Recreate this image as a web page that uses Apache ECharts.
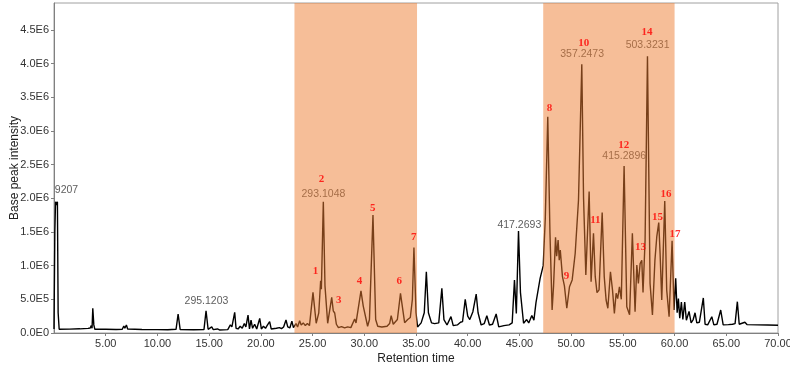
<!DOCTYPE html>
<html>
<head>
<meta charset="utf-8">
<script src="https://cdn.jsdelivr.net/npm/echarts@6/dist/echarts.min.js"></script>
<style>
  html, body { margin: 0; padding: 0; background: #fff; }
  #main { width: 790px; height: 369px; }
</style>
</head>
<body>
<div id="main"></div>
<script>
// chromatogram trace: retention time (min) / base peak intensity
var rtMin = [
  0.00, 0.08, 0.15, 0.25, 0.33, 0.40, 0.50, 1.5, 2.5, 3.3, 3.5, 3.6, 3.68, 3.75, 3.85, 3.95,
  5.0, 6.0, 6.6, 6.75, 6.85, 7.0, 7.12, 8.5, 10.0, 11.0, 11.8, 12.0, 12.2, 13.5, 14.5, 14.7,
  14.9, 15.25, 15.4, 15.8, 16.0, 16.8, 17.05, 17.2, 17.47, 17.6, 17.8, 18.0, 18.2, 18.4, 18.55,
  18.76, 18.9, 19.05, 19.2, 19.4, 19.6, 19.89, 20.05, 20.25, 20.45, 20.6, 20.85, 21.0, 21.5,
  21.8, 22.0, 22.2, 22.43, 22.6, 22.8, 23.0, 23.15, 23.4, 23.55, 23.75, 23.9, 24.1, 24.3, 24.5,
  24.7, 25.04, 25.35, 25.6, 25.78, 25.85, 26.04, 26.2, 26.46, 26.85, 27.0, 27.14, 27.3, 27.5,
  27.8, 28.1, 28.4, 28.7, 29.07, 29.2, 29.68, 29.9, 30.32, 30.5, 30.84, 31.1, 31.3, 31.7, 32.2,
  32.45, 32.6, 32.8, 33.2, 33.5, 33.9, 34.2, 34.45, 34.65, 34.8, 35.0, 35.15, 35.5, 35.8, 36.0,
  36.2, 36.5, 36.8, 37.2, 37.5, 37.7, 38.0, 38.38, 38.6, 39.0, 39.3, 39.5, 39.76, 40.0, 40.2,
  40.5, 40.82, 41.0, 41.3, 41.6, 41.85, 42.1, 42.4, 42.75, 43.0, 43.5, 44.0, 44.3, 44.52, 44.7,
  44.91, 45.1, 45.4, 45.7, 45.9, 46.2, 46.4, 46.6, 47.0, 47.3, 47.5, 47.74, 47.95, 48.16, 48.3,
  48.49, 48.6, 48.74, 48.85, 48.95, 49.16, 49.35, 49.58, 49.84, 50.1, 50.39, 50.71, 51.03, 51.2,
  51.42, 51.74, 51.93, 52.16, 52.33, 52.5, 52.7, 53.0, 53.2, 53.38, 53.55, 53.8, 54.0, 54.18,
  54.35, 54.5, 54.67, 54.85, 55.12, 55.38, 55.65, 55.92, 56.18, 56.35, 56.5, 56.67, 56.83, 56.95,
  57.15, 57.38, 57.63, 57.86, 58.1, 58.28, 58.47, 58.6, 58.76, 59.05, 59.24, 59.47, 59.76, 59.95,
  60.11, 60.25, 60.37, 60.5, 60.66, 60.8, 60.98, 61.14, 61.4, 61.6, 61.8, 61.98, 62.15, 62.4,
  62.55, 62.78, 62.95, 63.2, 63.6, 63.8, 64.1, 64.46, 64.7, 65.2, 65.6, 65.85, 66.07, 66.25,
  66.8, 67.0, 68.0, 69.0, 70.0
];
var intensity = [
  60000, 1500000, 1950000, 1900000, 1950000, 300000, 55000, 58000, 62000, 68000, 75000, 110000, 70000, 367000, 120000, 55000,
  55000, 52000, 55000, 104000, 70000, 120000, 60000, 52000, 50000, 48000, 55000, 282000, 50000, 48000, 50000, 331000,
  55000, 90000, 50000, 60000, 45000, 50000, 120000, 90000, 307000, 70000, 60000, 100000, 70000, 140000, 90000,
  267000, 60000, 190000, 70000, 130000, 60000, 218000, 60000, 100000, 70000, 110000, 170000, 60000, 70000,
  80000, 65000, 90000, 193000, 90000, 75000, 175000, 80000, 140000, 90000, 183000, 120000, 150000, 110000, 140000,
  110000, 604000, 144000, 300000, 777000, 650000, 1950000, 700000, 144000, 530000, 330000, 297000, 130000, 80000,
  95000, 75000, 90000, 80000, 208000, 150000, 624000, 400000, 100000, 200000, 1750000, 200000, 100000, 90000, 100000,
  140000, 257000, 130000, 200000, 589000, 153000, 200000, 230000, 500000, 1270000, 300000, 90000, 150000, 300000, 910000,
  300000, 150000, 140000, 150000, 663000, 200000, 119000, 243000, 110000, 120000, 160000, 170000, 500000, 250000, 200000,
  317000, 579000, 300000, 119000, 140000, 257000, 119000, 130000, 282000, 90000, 110000, 120000, 150000, 787000, 290000,
  1515000, 600000, 144000, 200000, 150000, 260000, 190000, 450000, 812000, 1000000, 1700000, 3210000, 1500000, 341000, 700000,
  1420000, 1140000, 1380000, 1080000, 1230000, 836000, 700000, 367000, 687000, 788000, 1180000, 1970000, 3990000, 2000000,
  861000, 2100000, 762000, 1480000, 836000, 600000, 640000, 1790000, 836000, 490000, 367000, 910000, 637000, 292000,
  590000, 510000, 687000, 500000, 2480000, 391000, 270000, 1480000, 316000, 1010000, 735000, 1030000, 1080000, 600000,
  1380000, 4110000, 737000, 267000, 1080000, 1430000, 1640000, 1180000, 490000, 1960000, 637000, 242000, 1370000, 341000,
  812000, 300000, 510000, 220000, 460000, 200000, 460000, 190000, 320000, 150000, 200000, 300000, 150000, 160000,
  140000, 520000, 130000, 120000, 242000, 120000, 130000, 341000, 120000, 125000, 130000, 140000, 465000, 130000,
  160000, 125000, 120000, 118000, 115000
];

// shaded retention windows
var zoneStart = [23.25, 47.3];
var zoneEnd = [35.1, 60.0];

// m/z annotations
var mzText = ['9207', '295.1203', '293.1048', '417.2693', '357.2473', '415.2896', '503.3231'];
var mzRt = [1.21, 14.74, 26.05, 44.99, 51.06, 55.13, 57.39];
var mzInt = [2120000, 475000, 2060000, 1604000, 4138000, 2628000, 4276000];

// numbered peaks
var peakNo = ['1', '2', '3', '4', '5', '6', '7', '8', '9', '10', '11', '12', '13', '14', '15', '16', '17'];
var peakRt = [25.28, 25.86, 27.53, 29.53, 30.82, 33.37, 34.78, 47.9, 49.54, 51.21, 52.34, 55.08, 56.71, 57.34, 58.35, 59.18, 60.05];
var peakInt = [925000, 2282000, 490000, 772000, 1852000, 777000, 1430000, 3336000, 846000, 4311000, 1678000, 2791000, 1281000, 4465000, 1718000, 2064000, 1466000];

var trace = rtMin.map(function (t, i) { return [t, intensity[i]]; });
var zones = zoneStart.map(function (s, i) { return [{ xAxis: s }, { xAxis: zoneEnd[i] }]; });
var mzData = mzText.map(function (s, i) { return { name: s, value: [mzRt[i], mzInt[i]] }; });
var peakData = peakNo.map(function (s, i) { return { name: s, value: [peakRt[i], peakInt[i]] }; });

function sciLabel(v) {
  if (v === 0) return '0.0E0';
  if (Math.round(v) % 500000 !== 0) return '';
  var e = Math.floor(Math.log10(v));
  return (v / Math.pow(10, e)).toFixed(1) + 'E' + e;
}

var chart = echarts.init(document.getElementById('main'));
var option = {
  animation: false,
  grid: { left: 54, right: 12, top: 3, bottom: 36, outerBoundsMode: 'none', containLabel: false,
    show: true, borderColor: '#a0a0a0', borderWidth: 1 },
  xAxis: {
    type: 'value', min: 0, max: 70, interval: 5,
    name: 'Retention time', nameLocation: 'middle', nameGap: 20, nameMoveOverlap: false,
    nameTextStyle: { fontFamily: 'Liberation Sans', fontSize: 12, color: '#222' },
    axisLine: { lineStyle: { color: '#808080' } },
    axisTick: { length: 3, lineStyle: { color: '#808080' } },
    axisLabel: { showMinLabel: false, margin: 5, fontFamily: 'Liberation Sans', fontSize: 11, color: '#333',
      formatter: function (v) { return v.toFixed(2); } },
    splitLine: { show: false }
  },
  yAxis: {
    type: 'value', min: 0, max: 4900000, interval: 500000,
    name: 'Base peak intensity', nameLocation: 'middle', nameGap: 33, nameRotate: 90, nameMoveOverlap: false,
    nameTextStyle: { fontFamily: 'Liberation Sans', fontSize: 12, color: '#222' },
    axisLine: { show: true, lineStyle: { color: '#808080' } },
    axisTick: { show: true, length: 3, lineStyle: { color: '#808080' } },
    axisLabel: { showMaxLabel: false, margin: 5, fontFamily: 'Liberation Sans', fontSize: 11, color: '#333',
      formatter: sciLabel },
    splitLine: { show: false }
  },
  series: [
    {
      type: 'line', data: trace, symbol: 'none', z: 2,
      lineStyle: { color: '#000', width: 1.4 }
    },
    {
      type: 'scatter', data: mzData, symbolSize: 0, z: 3, silent: true,
      label: { show: true, position: 'inside', formatter: '{b}',
        fontFamily: 'Liberation Sans', fontSize: 10.5, color: '#333' }
    },
    {
      type: 'line', data: [], z: 5, silent: true,
      markArea: { silent: true, z: 5, itemStyle: { color: 'rgba(237,125,49,0.5)' }, data: zones }
    },
    {
      type: 'scatter', data: peakData, symbolSize: 0, z: 6, silent: true,
      label: { show: true, position: 'inside', formatter: '{b}',
        fontFamily: 'Liberation Serif', fontWeight: 'bold', fontSize: 11, color: '#ff0000' }
    }
  ]
};
chart.setOption(option);
</script>
</body>
</html>
